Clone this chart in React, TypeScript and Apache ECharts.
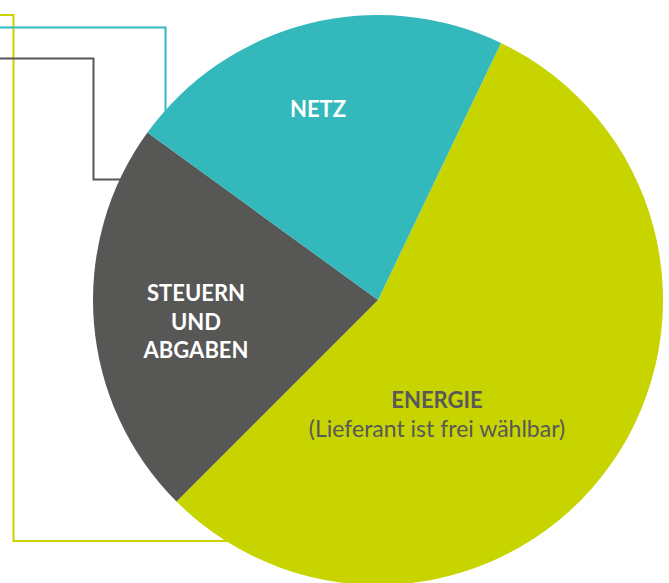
import React, { useEffect, useRef } from "react";
import * as echarts from "echarts";

const categories = ["ENERGIE", "STEUERN UND ABGABEN", "NETZ"];
const values = [55.4, 22.5, 22.1];
const colors = ["#c8d400", "#575756", "#33b8bc"];

export default function App() {
  const ref = useRef<HTMLDivElement>(null);
  useEffect(() => {
    if (!ref.current) return;
    const chart = echarts.init(ref.current, null, { renderer: "svg" });
    const font = "Lato, 'Open Sans', sans-serif";
    chart.setOption({
      animation: false,
      backgroundColor: "#ffffff",
      graphic: [
        {
          type: "polyline",
          z: 0,
          shape: { points: [[0, 15], [13.5, 15], [13.5, 541], [240, 541]] },
          style: { stroke: "#c8d400", lineWidth: 2, fill: null },
        },
        {
          type: "polyline",
          z: 0,
          shape: { points: [[0, 27.5], [165.5, 27.5], [165.5, 130]] },
          style: { stroke: "#33b8bc", lineWidth: 2, fill: null },
        },
        {
          type: "polyline",
          z: 0,
          shape: { points: [[0, 58.5], [93.5, 58.5], [93.5, 179.5], [140, 179.5]] },
          style: { stroke: "#575756", lineWidth: 2, fill: null },
        },
        {
          type: "text",
          z: 100,
          x: 318,
          y: 108,
          style: { text: "NETZ", fill: "#ffffff", font: `bold 22px ${font}`, align: "center", verticalAlign: "middle" },
        },
        {
          type: "text",
          z: 100,
          x: 196,
          y: 321,
          style: {
            text: "STEUERN\nUND\nABGABEN",
            fill: "#ffffff",
            font: `bold 22px ${font}`,
            lineHeight: 28.5,
            align: "center",
            verticalAlign: "middle",
          },
        },
        {
          type: "text",
          z: 100,
          x: 437,
          y: 399,
          style: { text: "ENERGIE", fill: "#58585a", font: `bold 22px ${font}`, align: "center", verticalAlign: "middle" },
        },
        {
          type: "text",
          z: 100,
          x: 437,
          y: 428,
          style: { text: "(Lieferant ist frei wählbar)", fill: "#58585a", font: `23px ${font}`, align: "center", verticalAlign: "middle" },
        },
      ],
      series: [
        {
          type: "pie",
          z: 2,
          center: [378, 300],
          radius: [0, 285],
          startAngle: 64.44,
          clockwise: true,
          label: { show: false },
          labelLine: { show: false },
          emphasis: { disabled: true },
          itemStyle: { borderWidth: 0 },
          data: categories.map((c, i) => ({ name: c, value: values[i], itemStyle: { color: colors[i] } })),
        },
      ],
    });
    return () => chart.dispose();
  }, []);
  return <div ref={ref} style={{ position: "absolute", left: 0, top: 0, width: 669, height: 583 }} />;
}
